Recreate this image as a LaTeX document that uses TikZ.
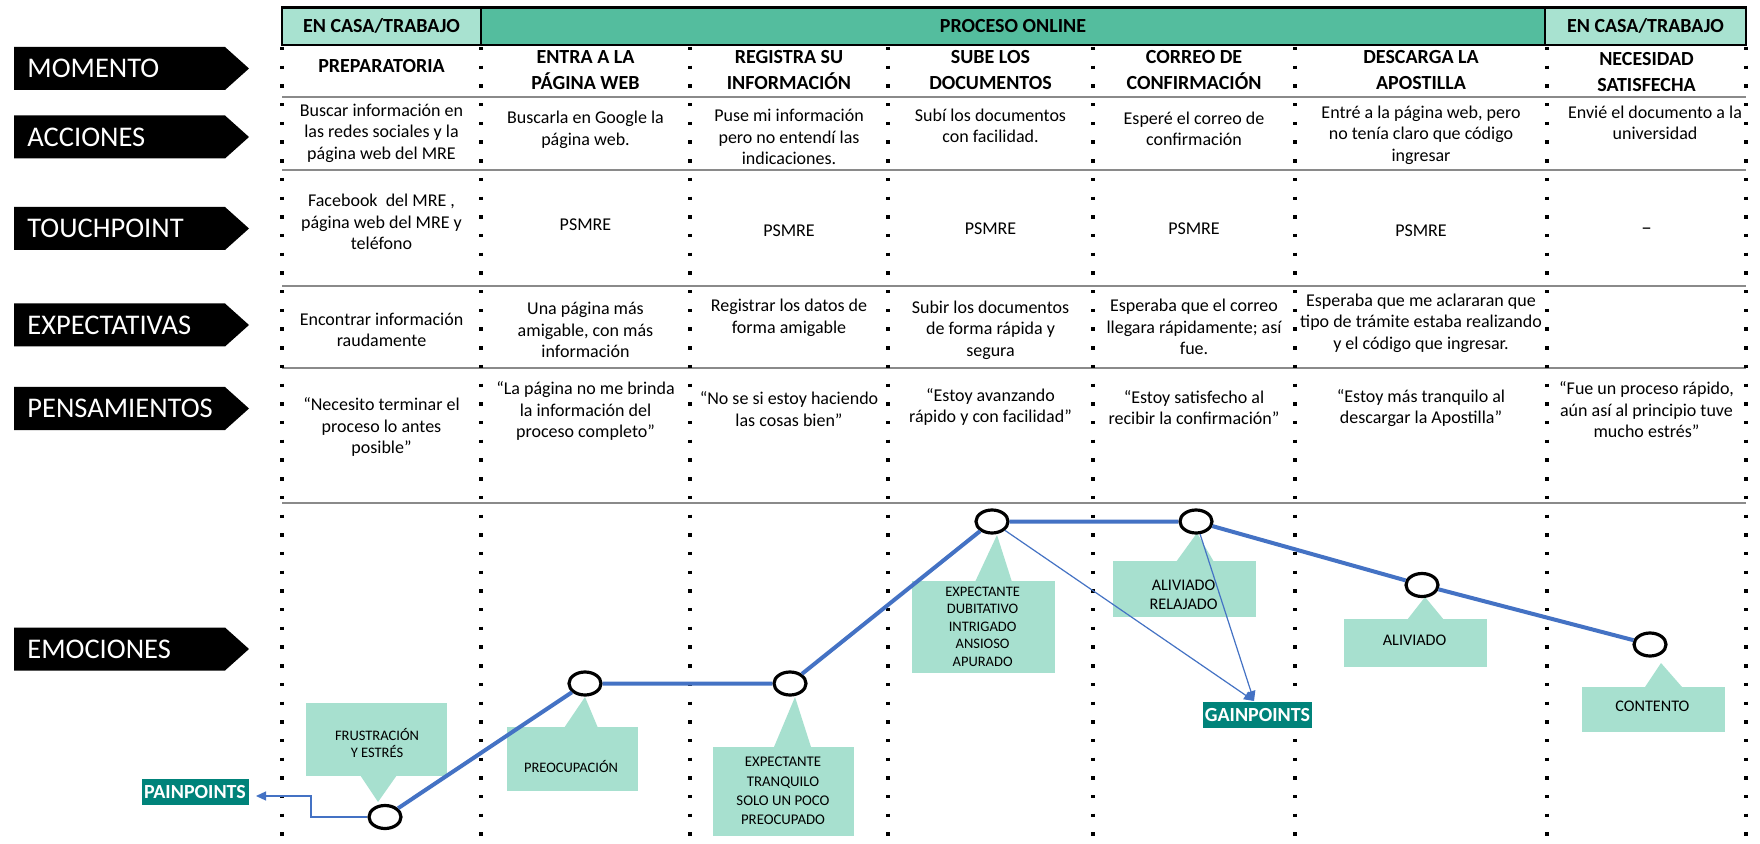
\documentclass[tikz,border=0pt]{standalone}
\usepackage{fontspec}
\setmainfont{Carlito}
\usetikzlibrary{arrows.meta,shapes.geometric}

\definecolor{mintlight}{HTML}{A8E2D0}
\definecolor{mintmid}{HTML}{54BD9E}
\definecolor{calloutfill}{HTML}{A7E0CF}
\definecolor{pointteal}{HTML}{00837A}
\definecolor{emoblue}{HTML}{4472C4}
\definecolor{rulegray}{HTML}{8A8A8A}

\tikzset{
  headcell/.style={draw=black, line width=1.2pt, minimum height=18.75pt, inner sep=0pt,
    font=\bfseries\fontsize{10}{12}\selectfont},
  rowtag/.style={anchor=west, text=white, inner sep=0pt, font=\fontsize{14.25}{16}\selectfont},
  stagecell/.style={align=center, inner sep=0pt, font=\bfseries\fontsize{10}{13}\selectfont},
  bodycell/.style={align=center, inner sep=0pt, font=\fontsize{9}{10.75}\selectfont},
  dotcol/.style={line width=1.6pt, dash pattern=on 1.7pt off 7.65pt},
  rowrule/.style={draw=rulegray, line width=0.7pt},
  feel/.style={fill=calloutfill, inner sep=0pt},
  feelpin/.style={fill=calloutfill},
  feeltext/.style={align=center, inner sep=0pt, font=\fontsize{7.25}{8.7}\selectfont},
  feeltextbig/.style={align=center, inner sep=0pt, font=\fontsize{8.1}{9.3}\selectfont},
  moodline/.style={draw=emoblue, line width=2pt},
  linkarrow/.style={draw=emoblue, line width=0.6pt, -{Triangle[length=5pt,width=4.5pt]}},
  mood/.style={ellipse, draw=black, fill=white, line width=1.6pt, minimum width=16pt,
    minimum height=11.5pt, inner sep=0pt},
  pointtag/.style={fill=pointteal, text=white, inner sep=0pt, minimum height=13pt,
    font=\bfseries\fontsize{10}{12}\selectfont},
}

\begin{document}
\begin{tikzpicture}[x=0.5pt,y=-0.5pt]
\fill[white] (0,0) rectangle (1760,844);
\useasboundingbox (0,0) rectangle (1760,844);

% header band
\node[headcell, fill=mintlight, minimum width=99.5pt] (hd1) at (381.5,26.25) {EN CASA/TRABAJO};
\node[headcell, fill=mintmid, minimum width=532pt] (hd2) at (1013,26.25) {PROCESO ONLINE};
\node[headcell, fill=mintlight, minimum width=100.5pt] (hd3) at (1645.5,26.25) {EN CASA/TRABAJO};

% row separators
\foreach \y in {97,170,286,368,503}
  \draw[rowrule] (282,\y) -- (1746,\y);

% dotted column separators
\foreach \x in {282,481,690,888,1093,1295,1547,1746}
  \draw[dotcol] (\x,47) -- (\x,844);

% row labels
\foreach \y/\t/\n in {68.5/MOMENTO/lmom, 137/ACCIONES/lacc, 228.5/TOUCHPOINT/ltou,
                      325/EXPECTATIVAS/lexp, 408.5/PENSAMIENTOS/lpen, 649/EMOCIONES/lemo}{
  \fill[black] (14,\y) ++(0,-21.5) -- ++(211,0) -- ++(24,21.5) -- ++(-24,21.5) -- ++(-211,0) -- cycle;
  \node[rowtag] (\n) at (27,\y) {\t};
}

% MOMENTO
\node[stagecell] (m1) at (381.5,66) {PREPARATORIA};
\node[stagecell] (m2) at (585.5,70) {ENTRA A LA\\PÁGINA WEB};
\node[stagecell] (m3) at (789,70) {REGISTRA SU\\INFORMACIÓN};
\node[stagecell] (m4) at (990.5,70) {SUBE LOS\\DOCUMENTOS};
\node[stagecell] (m5) at (1194,70) {CORREO DE\\CONFIRMACIÓN};
\node[stagecell] (m6) at (1421,70) {DESCARGA LA\\APOSTILLA};
\node[stagecell] (m7) at (1646.5,72) {NECESIDAD\\SATISFECHA};

% ACCIONES
\node[bodycell] (a1) at (381.5,133) {Buscar información en\\las redes sociales y la\\página web del MRE};
\node[bodycell] (a2) at (585.5,130) {Buscarla en Google la\\página web.};
\node[bodycell] (a3) at (789,137) {Puse mi información\\pero no entendí las\\indicaciones.};
\node[bodycell] (a4) at (990.5,126) {Subí los documentos\\con facilidad.};
\node[bodycell] (a5) at (1194,129) {Esperé el correo de\\confirmación};
\node[bodycell] (a6) at (1421,135) {Entré a la página web, pero\\no tenía claro que código\\ingresar};
\node[bodycell] (a7) at (1655,123) {Envié el documento a la\\universidad};

% TOUCHPOINT
\node[bodycell] (t1) at (381.5,222) {Facebook~ del MRE ,\\página web del MRE y\\teléfono};
\node[bodycell] (t2) at (585.5,224.5) {PSMRE};
\node[bodycell] (t3) at (789,231) {PSMRE};
\node[bodycell] (t4) at (990.5,229) {PSMRE};
\node[bodycell] (t5) at (1194,229) {PSMRE};
\node[bodycell] (t6) at (1421,231) {PSMRE};
\node[bodycell, font=\fontsize{10.5}{12}\selectfont] (t7) at (1646.5,231) {–};

% EXPECTATIVAS
\node[bodycell] (e1) at (381.5,330) {Encontrar información\\raudamente};
\node[bodycell] (e2) at (585.5,330) {Una página más\\amigable, con más\\información};
\node[bodycell] (e3) at (789,318) {Registrar los datos de\\forma amigable};
\node[bodycell] (e4) at (990.5,330) {Subir los documentos\\de forma rápida y\\segura};
\node[bodycell] (e5) at (1194,327) {Esperaba que el correo\\llegara rápidamente; así\\fue.};
\node[bodycell] (e6) at (1421,323) {Esperaba que me aclararan que\\tipo de trámite estaba realizando\\y el código que ingresar.};

% PENSAMIENTOS
\node[bodycell] (p1) at (381.5,427) {“Necesito terminar el\\proceso lo antes\\posible”};
\node[bodycell] (p2) at (585.5,411) {“La página no me brinda\\la información del\\proceso completo”};
\node[bodycell] (p3) at (789,409) {“No se si estoy haciendo\\las cosas bien”};
\node[bodycell] (p4) at (990.5,407) {“Estoy avanzando\\rápido y con facilidad”};
\node[bodycell] (p5) at (1194,407.5) {“Estoy satisfecho al\\recibir la confirmación”};
\node[bodycell] (p6) at (1421,408) {“Estoy más tranquilo al\\descargar la Apostilla”};
\node[bodycell] (p7) at (1646.5,410) {“Fue un proceso rápido,\\aún así al principio tuve\\mucho estrés”};

% EMOCIONES: callout boxes with their pointers
\fill[feelpin] (360,775) -- (378,802) -- (397,775) -- cycle;
\node[feel, minimum width=70.5pt, minimum height=36.5pt] (f1) at (376,739) {};
\node[feeltext] (f1t) at (377,743) {FRUSTRACIÓN\\Y ESTRÉS};

\fill[feelpin] (564,728) -- (585,697) -- (598,728) -- cycle;
\node[feel, minimum width=65.5pt, minimum height=32pt] (f2) at (572,759) {};
\node[feeltext] (f2t) at (571,766.7) {PREOCUPACIÓN};

\fill[feelpin] (774,747) -- (795,697) -- (811,747) -- cycle;
\node[feel, minimum width=70.5pt, minimum height=44.5pt] (f3) at (783,791) {};
\node[feeltext, font=\fontsize{7.4}{9.6}\selectfont] (f3t) at (783,791) {EXPECTANTE\\TRANQUILO\\SOLO UN POCO\\PREOCUPADO};

\fill[feelpin] (975,582) -- (997,535) -- (1012,582) -- cycle;
\node[feel, minimum width=71.5pt, minimum height=46pt] (f4) at (983,627) {};
\node[feeltext] (f4t) at (982.6,626.7) {EXPECTANTE\\DUBITATIVO\\INTRIGADO\\ANSIOSO\\APURADO};

\fill[feelpin] (1176,562) -- (1197,533) -- (1214,562) -- cycle;
\node[feel, minimum width=71.5pt, minimum height=28pt] (f5) at (1184,589) {};
\node[feeltextbig] (f5t) at (1183.6,594.7) {ALIVIADO\\RELAJADO};

\fill[feelpin] (1407,620) -- (1425,597) -- (1444,620) -- cycle;
\node[feel, minimum width=71.5pt, minimum height=24pt] (f6) at (1415,643) {};
\node[feeltextbig] (f6t) at (1414.6,640.7) {ALIVIADO};

\fill[feelpin] (1645,687) -- (1661,663) -- (1682,687) -- cycle;
\node[feel, minimum width=71.5pt, minimum height=22.5pt] (f7) at (1653,709) {};
\node[feeltextbig] (f7t) at (1652.4,706.7) {CONTENTO};

% EMOCIONES: curve points
\node[mood] (c1) at (385,817) {};
\node[mood] (c2) at (585,683.5) {};
\node[mood] (c3) at (790,683.5) {};
\node[mood] (c4) at (992,521.5) {};
\node[mood] (c5) at (1196,521.5) {};
\node[mood] (c6) at (1422,585) {};
\node[mood] (c7) at (1650,644.5) {};

\draw[moodline] (c1) -- (c2) -- (c3) -- (c4) -- (c5) -- (c6) -- (c7);

% pain and gain markers
\node[pointtag, minimum width=53.5pt] (pain) at (195,792) {PAINPOINTS};
\coordinate (pbend) at (311,796);
\coordinate (ptip) at (256,796);
\draw[linkarrow] (c1.west) -| (pbend) -- (ptip);

\node[pointtag, minimum width=54.5pt] (gain) at (1257.5,715) {GAINPOINTS};
\coordinate (gtip) at (1254,701);
\draw[linkarrow] (c4) -- (gtip);
\draw[linkarrow] (c5) -- (gtip);
\end{tikzpicture}
\end{document}
